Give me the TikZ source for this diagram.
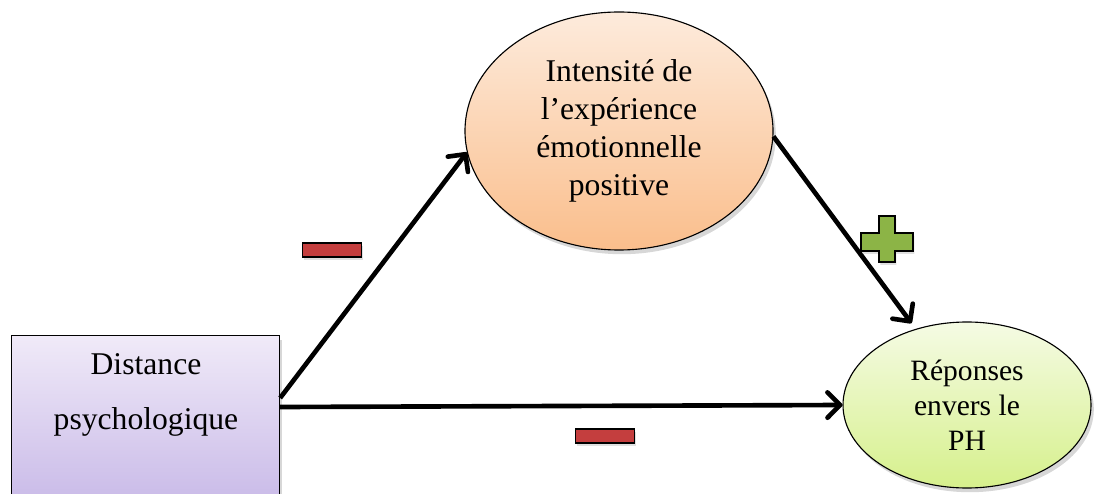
\documentclass[tikz,border=0pt]{standalone}
\usepackage{fontspec}
\setmainfont{Liberation Serif}
\usetikzlibrary{arrows.meta,shapes.geometric,shadows}
\definecolor{lavhaut}{RGB}{240,234,248}
\definecolor{lavbas}{RGB}{196,180,230}
\definecolor{orhaut}{RGB}{253,235,220}
\definecolor{orbas}{RGB}{250,190,140}
\definecolor{vehaut}{RGB}{245,251,228}
\definecolor{vebas}{RGB}{214,240,140}
\definecolor{rouge}{RGB}{196,62,62}
\definecolor{vert}{RGB}{140,180,70}

\begin{document}
\begin{tikzpicture}[x=0.025cm,y=0.025cm,
      ombre/.style={drop shadow={fill=black!45,opacity=0.35,shadow xshift=2pt,shadow yshift=-3pt}},
      box/.style={draw,thick,rectangle,ombre,top color=lavhaut,bottom color=lavbas},
      bulle/.style={draw,thick,ellipse,ombre,inner sep=0pt},
      link/.style={draw,line width=3.3pt,-{Straight Barb[length=9pt,width=18pt,round]}},
      moins/.style={draw,line width=1.3pt,rectangle,inner sep=0pt,minimum width=59*0.025cm,
        minimum height=14*0.025cm,fill=rouge,
        drop shadow={fill=black!40,opacity=0.3,shadow xshift=1pt,shadow yshift=-2pt}}]
      \useasboundingbox (0,0) rectangle (1095,493);
      \clip (0,0) rectangle (1095,493);
      \node[box,anchor=north west,minimum width=268*0.025cm,minimum height=190*0.025cm] (dist) at (11,158) {};
      \node[align=center,font=\fontsize{22.5}{39}\selectfont] (distlbl) at (146,98) {Distance\\psychologique};
      \node[bulle,minimum width=308*0.025cm,minimum height=238*0.025cm,
        top color=orhaut,bottom color=orbas,align=center,
        font=\fontsize{22.5}{27}\selectfont] (emo) at (619,362) {Intensit\'e de\\l'exp\'erience\\\'emotionnelle\\positive};
      \node[bulle,minimum width=248*0.025cm,minimum height=166*0.025cm,
        top color=vehaut,bottom color=vebas,align=center,
        font=\fontsize{21}{25}\selectfont] (resp) at (967,88) {R\'eponses\\envers le\\PH};
      \coordinate (src1) at ([yshift=-63*0.025cm]dist.north east);
      \coordinate (src2) at ([yshift=-72*0.025cm]dist.north east);
      \draw[link] (src1) -- (emo.188);
      \draw[link] (src2) -- (resp.west);
      \draw[link,shorten >=5pt] (emo.-2) -- (resp.124);
      % signes
      \node[moins] (m1) at (332,243) {};
      \node[moins] (m2) at (605,57) {};
      \filldraw[line width=1.3pt,fill=vert,
        drop shadow={fill=black!40,opacity=0.3,shadow xshift=1pt,shadow yshift=-2pt}]
        (879,277) -- (895,277) -- (895,260) -- (913,260) -- (913,242) -- (895,242)
        -- (895,231) -- (879,231) -- (879,242) -- (861,242) -- (861,260) -- (879,260) -- cycle;
    \end{tikzpicture}
\end{document}
